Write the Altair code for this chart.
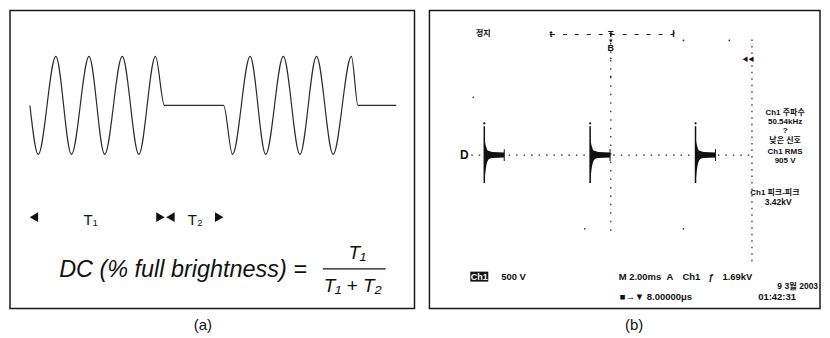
import altair as alt
import pandas as pd

# ---------------- panel (a): burst-driven sine (t in carrier cycles, a = amplitude)
wave_t = [0.00, 0.25, 0.78, 1.25, 1.78, 2.25, 2.78, 3.28, 3.78, 4.05,
          5.83, 6.10, 6.63, 7.10, 7.63, 8.13, 8.63, 9.13, 9.68, 9.88, 11.03]
wave_a = [0, -1, 1, -1, 1, -1, 1, -1, 1, 0,
          0, -1, 1, -1, 1, -1, 1, -1, 1, 0, 0]

arrow_t = [0.12, 3.93, 4.23, 5.70]
arrow_a = [-2.28, -2.28, -2.28, -2.28]
arrow_shape = ["triangle-left", "triangle-right", "triangle-left", "triangle-right"]

period_labels = ["T\u2081", "T\u2082"]
period_t = [1.83, 4.98]
period_a = [-2.435, -2.435]

formula_labels = ["DC (% full brightness) ="]
formula_t = [0.88]
formula_a = [-3.506]

frac_labels = ["T\u2081", "T\u2081 + T\u2082"]
frac_t = [9.855, 9.72]
frac_a = [-3.13, -3.81]
frac_bar_t = [8.82]
frac_bar_t2 = [10.71]
frac_bar_a = [-3.335]

# ---------------- panel (b): oscilloscope capture (ms, volts)
burst_ms = [-8.94, -1.46, 5.99]
env_offset_ms = [0.0, 0.07, 0.14, 0.21, 0.35, 0.56, 1.41]
env_upper_v = [334, 211, 141, 88, 70, 53, 44]
env_lower_v = [-493, -317, -194, -123, -70, -53, -44]
spike_top_v = [510, 510, 510]
spike_bottom_v = [-493, -493, -493]
spike_dot_v = [560, 560, 560]
tail_tick_v = [105, 105, 105]

dot_ms = [-9.72, -1.83, 5.14, 5.14, 8.38, 0.0, 0.0]
dot_v = [1021, -1302, -1302, 2024, 2024, 1707, 1390]

right_labels = ["Ch1 주파수", "50.54kHz", "?", "낮은 신호", "Ch1 RMS", "905 V"]
right_ms = [12.32, 12.32, 12.32, 12.32, 12.32, 12.32]
right_v = [739, 581, 422, 255, 53, -106]

pp_labels = ["Ch1 피크-피크", "3.42kV"]
pp_ms = [9.86, 11.83]
pp_v = [-669, -827]

bottom_labels = ["500 V", "M 2.00ms", "A", "Ch1", "ƒ", "1.69kV", "■→▼ 8.00000μs", "01:42:31"]
bottom_ms = [-7.75, 0.56, 3.94, 5.07, 6.90, 7.89, 0.63, 10.42]
bottom_v = [-2147, -2147, -2147, -2147, -2147, -2147, -2499, -2499]

date_labels = ["9 3월 2003"]
date_ms = [14.65]
date_v = [-2315]

ch_box_ms = [-9.93]
ch_box_ms2 = [-8.66]
ch_box_v = [-2059]
ch_box_v2 = [-2235]
ch_box_label = ["Ch1"]
ch_box_label_ms = [-9.30]
ch_box_label_v = [-2147]

marker_labels = ["정지", "Ŧ", "▼", "B", "◀◀", "D", "ŧ", "ł"]
marker_ms = [-9.01, 0.0, 0.0, 0.0, 9.72, -10.35, -4.23, 4.44]
marker_v = [2130, 2145, 2006, 1883, 1690, 0, 2130, 2130]
marker_size = [8, 9, 6, 9, 6, 12, 9, 9]

FONT = "Liberation Sans"
SCOPE_FONT = "Liberation Sans, Noto Sans CJK KR"

# ---------------- panel (a) chart
sx_a = alt.Scale(domain=[-0.60, 11.58], nice=False, zero=False)
sy_a = alt.Scale(domain=[-4.142, 1.935], nice=False, zero=False)
ax_a = alt.Axis(title="(a)", labels=False, ticks=False, domain=False, grid=False,
                titleX=193, titleY=9, titleBaseline="top", titleAlign="center",
                titleFont=FONT, titleFontSize=15, titleFontWeight="normal", titleColor="#111")


def XA(f="t"):
    return alt.X(f"{f}:Q", scale=sx_a, axis=ax_a)


def YA(f="a"):
    return alt.Y(f"{f}:Q", scale=sy_a, axis=None)


wave_df = pd.DataFrame({"t": wave_t, "a": wave_a})
wave = alt.Chart(wave_df).mark_line(color="#2a2a2a", strokeWidth=1.2, interpolate="monotone").encode(
    x=XA(), y=YA(), order="t:Q")

arrow_df = pd.DataFrame({"t": arrow_t, "a": arrow_a, "shape": arrow_shape})
arrows = alt.Chart(arrow_df).mark_point(filled=True, color="#111", size=95, opacity=1).encode(
    x=XA(), y=YA(), shape=alt.Shape("shape:N", scale=None))

per_df = pd.DataFrame({"t": period_t, "a": period_a, "label": period_labels})
per_text = alt.Chart(per_df).mark_text(font=FONT, fontSize=15, color="#111", align="center",
                                       baseline="alphabetic").encode(x=XA(), y=YA(), text="label:N")

form_df = pd.DataFrame({"t": formula_t, "a": formula_a, "label": formula_labels})
form_text = alt.Chart(form_df).mark_text(font=FONT, fontSize=23.5, fontStyle="italic", color="#111",
                                         align="left", baseline="alphabetic").encode(
    x=XA(), y=YA(), text="label:N")

frac_df = pd.DataFrame({"t": frac_t, "a": frac_a, "label": frac_labels})
frac_text = alt.Chart(frac_df).mark_text(font=FONT, fontSize=19, fontStyle="italic", color="#111",
                                         align="center", baseline="alphabetic").encode(
    x=XA(), y=YA(), text="label:N")

bar_df = pd.DataFrame({"t": frac_bar_t, "t2": frac_bar_t2, "a": frac_bar_a})
frac_bar = alt.Chart(bar_df).mark_rule(color="#111", strokeWidth=1.3).encode(
    x=XA(), x2="t2:Q", y=YA())

panel_a = alt.layer(wave, arrows, per_text, form_text, frac_text, frac_bar).properties(
    width=406, height=299)

# ---------------- panel (b) chart
sx_b = alt.Scale(domain=[-12.817, 14.789], nice=False, zero=False)
sy_b = alt.Scale(domain=[-2710, 2552], nice=False, zero=False)
ax_b = alt.Axis(title="(b)", labels=False, ticks=False, domain=False, grid=False,
                titleX=205, titleY=9, titleBaseline="top", titleAlign="center",
                titleFont=FONT, titleFontSize=15, titleFontWeight="normal", titleColor="#111")


def XB(f="ms"):
    return alt.X(f"{f}:Q", scale=sx_b, axis=ax_b)


def YB(f="v"):
    return alt.Y(f"{f}:Q", scale=sy_b, axis=None, stack=None)


# graticule
hline = alt.Chart(pd.DataFrame({"ms": [-9.86], "ms2": [9.98], "v": [0]})).mark_rule(
    color="#222", strokeWidth=1.2, strokeDash=[1.5, 6]).encode(x=XB(), x2="ms2:Q", y=YB())
vline_c = alt.Chart(pd.DataFrame({"ms": [0.0], "v": [2130], "v2": [-1390]})).mark_rule(
    color="#222", strokeWidth=1.2, strokeDash=[1.5, 7]).encode(x=XB(), y=YB(), y2="v2:Q")
vline_r = alt.Chart(pd.DataFrame({"ms": [9.98], "v": [2042], "v2": [-1900]})).mark_rule(
    color="#222", strokeWidth=1.2, strokeDash=[1.5, 5]).encode(x=XB(), y=YB(), y2="v2:Q")
top_line = alt.Chart(pd.DataFrame({"ms": [-4.23], "ms2": [4.44], "v": [2130]})).mark_rule(
    color="#222", strokeWidth=1.2, strokeDash=[4, 8]).encode(x=XB(), x2="ms2:Q", y=YB())

# bursts
env_rows = []
for bi, b in enumerate(burst_ms):
    for o, up, lo in zip(env_offset_ms, env_upper_v, env_lower_v):
        env_rows.append({"burst": bi, "ms": b + o, "v": up, "v2": lo})
env_df = pd.DataFrame(env_rows)
env = alt.Chart(env_df).mark_area(color="#111", opacity=1, interpolate="monotone").encode(
    x=XB(), y=YB(), y2="v2:Q", detail="burst:N")

spike_df = pd.DataFrame({"ms": burst_ms, "v": spike_top_v, "v2": spike_bottom_v})
spikes = alt.Chart(spike_df).mark_rule(color="#111", strokeWidth=1.5).encode(
    x=XB(), y=YB(), y2="v2:Q")

tail_df = pd.DataFrame({"ms": [b + env_offset_ms[-1] for b in burst_ms],
                        "v": tail_tick_v, "v2": [-t for t in tail_tick_v]})
tails = alt.Chart(tail_df).mark_rule(color="#111", strokeWidth=1).encode(
    x=XB(), y=YB(), y2="v2:Q")

sdot_df = pd.DataFrame({"ms": burst_ms, "v": spike_dot_v})
sdots = alt.Chart(sdot_df).mark_point(filled=True, color="#111", size=5, opacity=1).encode(
    x=XB(), y=YB())

dot_df = pd.DataFrame({"ms": dot_ms, "v": dot_v})
dots = alt.Chart(dot_df).mark_point(filled=True, color="#333", size=3, opacity=1).encode(
    x=XB(), y=YB())

# markers
mk_df = pd.DataFrame({"ms": marker_ms, "v": marker_v, "label": marker_labels, "size": marker_size})
markers = alt.Chart(mk_df).mark_text(font=SCOPE_FONT, fontWeight="bold", color="#111",
                                     align="center", baseline="middle").encode(
    x=XB(), y=YB(), text="label:N", size=alt.Size("size:Q", scale=None))

# readouts
r_df = pd.DataFrame({"ms": right_ms, "v": right_v, "label": right_labels})
right_text = alt.Chart(r_df).mark_text(font=SCOPE_FONT, fontSize=8, fontWeight="bold", color="#111",
                                       align="center", baseline="middle").encode(
    x=XB(), y=YB(), text="label:N")

pp_df = pd.DataFrame({"ms": pp_ms, "v": pp_v, "label": pp_labels})
pp_text1 = alt.Chart(pp_df.iloc[[0]]).mark_text(font=SCOPE_FONT, fontSize=8, fontWeight="bold",
                                                color="#111", align="left", baseline="middle").encode(
    x=XB(), y=YB(), text="label:N")
pp_text2 = alt.Chart(pp_df.iloc[[1]]).mark_text(font=SCOPE_FONT, fontSize=8.5, fontWeight="bold",
                                                color="#111", align="center", baseline="middle").encode(
    x=XB(), y=YB(), text="label:N")

b_df = pd.DataFrame({"ms": bottom_ms, "v": bottom_v, "label": bottom_labels})
bottom_text = alt.Chart(b_df).mark_text(font=SCOPE_FONT, fontSize=9.5, fontWeight="bold", color="#111",
                                        align="left", baseline="middle").encode(
    x=XB(), y=YB(), text="label:N")

d_df = pd.DataFrame({"ms": date_ms, "v": date_v, "label": date_labels})
date_text = alt.Chart(d_df).mark_text(font=SCOPE_FONT, fontSize=8.5, fontWeight="bold", color="#111",
                                      align="right", baseline="middle").encode(
    x=XB(), y=YB(), text="label:N")

box_df = pd.DataFrame({"ms": ch_box_ms, "ms2": ch_box_ms2, "v": ch_box_v, "v2": ch_box_v2})
ch_box = alt.Chart(box_df).mark_rect(color="#111").encode(
    x=XB(), x2="ms2:Q", y=YB(), y2="v2:Q")
cbl_df = pd.DataFrame({"ms": ch_box_label_ms, "v": ch_box_label_v, "label": ch_box_label})
ch_label = alt.Chart(cbl_df).mark_text(font=SCOPE_FONT, fontSize=9, fontWeight="bold", color="white",
                                       align="center", baseline="middle").encode(
    x=XB(), y=YB(), text="label:N")

panel_b = alt.layer(hline, vline_c, vline_r, top_line, env, spikes, tails, sdots, dots, markers,
                    right_text, pp_text1, pp_text2, bottom_text, date_text, ch_box, ch_label).properties(
    width=392, height=299)

chart = alt.hconcat(panel_a, panel_b, spacing=13).properties(
    padding={"left": 1, "top": 1, "right": 1, "bottom": 1}
).configure_view(stroke="#1a1a1a", strokeWidth=1.5)

chart.save("out.html", embed_options={"renderer": "svg", "actions": False})
